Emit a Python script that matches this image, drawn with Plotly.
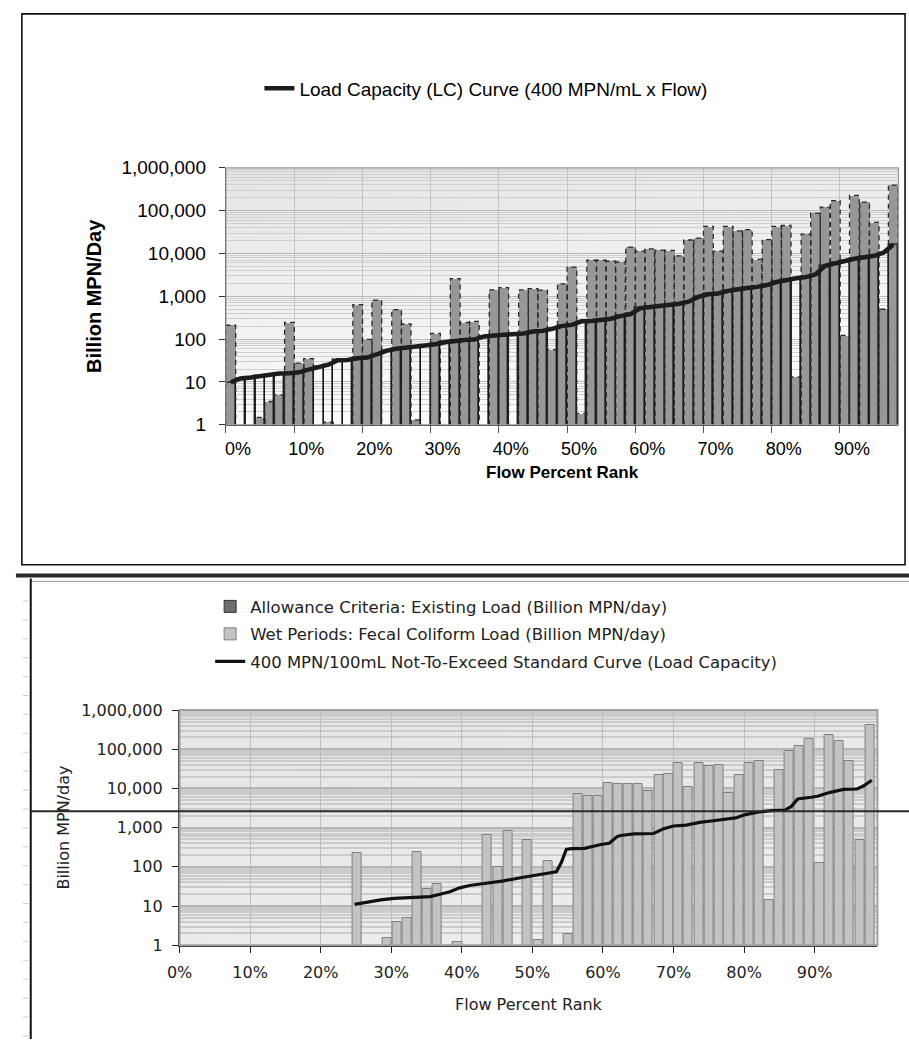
import base64
import plotly.graph_objects as go

# ---------------- Top chart data (category = flow percent rank) ----------------
top_rank = [0.0, 1.4, 2.9, 4.3, 5.7, 7.1, 8.6, 10.0, 11.4, 12.9, 14.3, 15.7, 17.1, 18.6,
            20.0, 21.4, 22.9, 24.3, 25.7, 27.1, 28.6, 30.0, 31.4, 32.9, 34.3, 35.7, 37.1, 38.6,
            40.0, 41.4, 42.9, 44.3, 45.7, 47.1, 48.6, 50.0, 51.4, 52.9, 54.3, 55.7, 57.1, 58.6,
            60.0, 61.4, 62.9, 64.3, 65.7, 67.1, 68.6, 70.0, 71.4, 72.9, 74.3, 75.7, 77.1, 78.6,
            80.0, 81.4, 82.9, 84.3, 85.7, 87.1, 88.6, 90.0, 91.4, 92.9, 94.3, 95.7, 97.1]
top_load = [211, None, None, 1.5, 3.5, 5.0, 247, 27.5, 35, None, 1.15, None, None, 640,
            99, 818, None, 490, 226, 1.3, None, 136, None, 2600, 247, 261, None, 1406,
            1590, None, 1406, 1510, 1400, 57, 1960, 4800, 1.85, 6950, 6950, 6580, 6350, 14000,
            11350, 12800, 11950, 11750, 8740, 20600, 22900, 43000, 11350, 43000, 33700, 36100, 7310, 21000,
            43000, 45000, 13.2, 28200, 87000, 121000, 172000, 122, 228000, 158000, 53000, 499, 393000]
top_lc = [9.8, 12.1, 12.7, 13.9, 14.9, 15.7, 16.0, 16.8, 19.4, 22.4, 25.3, 32.2, 32.8, 35.8,
          37.1, 44.3, 53.9, 59.7, 63, 66.5, 71.2, 76, 84.6, 92.5, 95.8, 97.6, 116, 122,
          124, 129, 136, 151, 156, 174, 204, 215, 261, 265, 279, 300, 345, 384,
          527, 555, 585, 627, 673, 750, 980, 1120, 1160, 1340, 1470, 1560, 1660, 1830,
          2150, 2440, 2630, 2800, 3230, 5160, 5940, 6740, 7500, 8200, 8800, 10500, 16200]

# ---------------- Bottom chart data ----------------
bot_rank = [25.1, 29.4, 30.8, 32.2, 33.7, 35.1, 36.5, 39.4, 43.6, 45.1, 46.5, 49.3, 50.8, 52.2,
            55.0, 56.5, 57.9, 59.3, 60.7, 62.2, 63.6, 65.0, 66.4, 67.9, 69.3, 70.7, 72.1, 73.6,
            75.0, 76.4, 77.8, 79.3, 80.7, 82.1, 83.5, 85.0, 86.4, 87.8, 89.2, 90.7, 92.1, 93.5,
            94.9, 96.4, 97.8]
bot_wet = [220, 1.55, 3.8, 4.9, 242, 27.7, 36, 1.2, 660, 100, 810, 492, 1.33, 142,
           1.9, 7220, 6400, 6400, 14100, 13000, 13000, 13000, 8410, 22000, 23700, 43800, 11000, 43800,
           37600, 40600, 7790, 22000, 43800, 51100, 13.9, 28700, 87400, 123500, 178000, 128, 228000, 161000,
           51100, 492, 422000]
bot_allow = [None]  # existing-load series: no visible bars in this panel
bot_lc_rank = [24.8, 26.7, 28.5, 30.4, 32.7, 35.5, 36.9, 38.3, 39.7, 41.1, 42.9, 45.7, 48.5, 51.3,
               53.4, 54.1, 54.8, 55.5, 57.4, 59.7, 60.9, 62.0, 62.5, 64.4, 67.2, 68.6, 70.0, 71.8,
               73.7, 75.6, 77.4, 78.8, 80.2, 82.1, 83.9, 85.8, 86.7, 87.6, 89.5, 90.4, 92.2, 94.1,
               96.0, 96.9, 98.1]
bot_lc = [11, 12.8, 14.4, 15.6, 16.5, 17.4, 20, 23, 29, 33.4, 37, 43, 53.5, 64,
          75, 128, 276, 290, 295, 370, 400, 590, 630, 693, 707, 940, 1100, 1160,
          1360, 1500, 1630, 1770, 2150, 2500, 2700, 2810, 3480, 5400, 5940, 6300, 7940, 9440,
          9640, 11500, 16200]

y_tickvals = [1, 10, 100, 1000, 10000, 100000, 1000000]
y_ticktext = ["1", "10", "100", "1,000", "10,000", "100,000", "1,000,000"]
x_tickvals = [0, 10, 20, 30, 40, 50, 60, 70, 80, 90]
x_ticktext = ["0%", "10%", "20%", "30%", "40%", "50%", "60%", "70%", "80%", "90%"]

W_PX, H_PX = 909, 1050
def px(x):
    return x / W_PX
def py(y):
    return 1 - y / H_PX

TOP_X = [px(216), px(898.3)]
TOP_Y = [py(423.3), py(161)]
BOT_X = [px(169), px(877)]
BOT_Y = [py(954.3), py(714.3)]

BAR_W = 10 / 7
minor_vals = [k * 10 ** e for e in range(6) for k in range(2, 10)]

ARIAL = "Liberation Sans, Arial, Helvetica, sans-serif"
TAHOMA = "DejaVu Sans, Verdana, sans-serif"

fig = go.Figure()

# ---- top chart ----
fig.add_trace(go.Bar(x=top_rank, y=top_load, width=BAR_W + 0.01, offset=0,
                     marker=dict(color="#979797", line=dict(width=0)),
                     showlegend=False, hoverinfo="skip", xaxis="x", yaxis="y"))
fig.add_trace(go.Bar(x=top_rank, y=top_lc, width=BAR_W, offset=0,
                     marker=dict(color="rgba(0,0,0,0)", line=dict(color="#111111", width=1.3)),
                     showlegend=False, hoverinfo="skip", xaxis="x", yaxis="y"))
ox, oy = [], []
for r, v in zip(top_rank, top_load):
    if v is None:
        continue
    ox += [r, r, r + BAR_W, r + BAR_W, None]
    oy += [1, v, v, 1, None]
fig.add_trace(go.Scatter(x=ox, y=oy, mode="lines",
                         line=dict(color="#2a2a2a", width=1.3, dash="5px,4px"),
                         showlegend=False, hoverinfo="skip", xaxis="x", yaxis="y"))
fig.add_trace(go.Scatter(x=[r + BAR_W / 2 for r in top_rank], y=top_lc, mode="lines",
                         line=dict(color="#1c1c1c", width=4.5),
                         name="Load Capacity (LC) Curve (400 MPN/mL x Flow)",
                         legend="legend", xaxis="x", yaxis="y"))

# ---- bottom chart ----
fig.add_trace(go.Bar(x=bot_allow, y=bot_allow, name="Allowance Criteria: Existing Load (Billion MPN/day)",
                     marker=dict(color="#6e6e6e", line=dict(color="#333333", width=1)),
                     legend="legend2", legendgroup="a", xaxis="x2", yaxis="y2"))
fig.add_trace(go.Bar(x=bot_rank, y=bot_wet, width=1.3,
                     name="Wet Periods: Fecal Coliform Load (Billion MPN/day)",
                     marker=dict(color="#c3c3c3", line=dict(color="#808080", width=1)),
                     legend="legend2", legendgroup="b", xaxis="x2", yaxis="y2"))
fig.add_trace(go.Scatter(x=bot_lc_rank, y=bot_lc, mode="lines",
                         line=dict(color="#111111", width=3.2),
                         name="400 MPN/100mL Not-To-Exceed Standard Curve (Load Capacity)",
                         legend="legend2", legendgroup="c", xaxis="x2", yaxis="y2"))

def grad_svg(c1, c2):
    svg = ('<svg xmlns="http://www.w3.org/2000/svg" width="100" height="100" preserveAspectRatio="none">'
           '<defs><linearGradient id="g" x1="0" y1="0" x2="0.3" y2="1">'
           f'<stop offset="0" stop-color="{c1}"/><stop offset="1" stop-color="{c2}"/>'
           '</linearGradient></defs><rect width="100" height="100" fill="url(#g)"/></svg>')
    return "data:image/svg+xml;base64," + base64.b64encode(svg.encode()).decode()

images = [
    dict(source=grad_svg("#e4e4e4", "#fbfbfb"), xref="paper", yref="paper",
         x=TOP_X[0], y=TOP_Y[1], sizex=TOP_X[1] - TOP_X[0], sizey=TOP_Y[1] - TOP_Y[0],
         xanchor="left", yanchor="top", sizing="stretch", layer="below"),
    dict(source=grad_svg("#e6e6e6", "#ececec"), xref="paper", yref="paper",
         x=BOT_X[0], y=BOT_Y[1], sizex=BOT_X[1] - BOT_X[0], sizey=BOT_Y[1] - BOT_Y[0],
         xanchor="left", yanchor="top", sizing="stretch", layer="below"),
]

shapes = [
    # top chart frame
    dict(type="rect", xref="paper", yref="paper", x0=px(9), x1=px(905), y0=py(566), y1=py(4),
         line=dict(color="#111111", width=1.6), fillcolor="rgba(0,0,0,0)"),
    # plot area borders
    dict(type="rect", xref="paper", yref="paper", x0=TOP_X[0], x1=TOP_X[1], y0=TOP_Y[0], y1=TOP_Y[1],
         line=dict(color="#9a9a9a", width=1.2), layer="above"),
    dict(type="rect", xref="paper", yref="paper", x0=BOT_X[0], x1=BOT_X[1], y0=BOT_Y[0], y1=BOT_Y[1],
         line=dict(color="#a0a0a0", width=2), layer="above"),
    # separator band between the two panels
    dict(type="line", xref="paper", yref="paper", x0=px(3), x1=1, y0=py(577), y1=py(577),
         line=dict(color="#2a2a2a", width=4)),
    dict(type="line", xref="paper", yref="paper", x0=px(18), x1=1, y0=py(583), y1=py(583),
         line=dict(color="#9a9a9a", width=1)),
    # bottom panel left border
    dict(type="line", xref="paper", yref="paper", x0=px(18), x1=px(18), y0=0, y1=py(580),
         line=dict(color="#111111", width=2)),
    # horizontal page line crossing the lower chart
    dict(type="line", xref="paper", yref="paper", x0=px(18), x1=1, y0=py(817.7), y1=py(817.7),
         line=dict(color="#2a2a2a", width=2), layer="above"),
]
for k in range(24):
    yy = 603 + 19.3 * k
    shapes.append(dict(type="line", xref="paper", yref="paper", x0=px(10), x1=px(17),
                       y0=py(yy), y1=py(yy), line=dict(color="#cfcfcf", width=1)))

annotations = [
    dict(text="<b>Billion MPN/Day</b>", xref="paper", yref="paper", x=px(82), y=py(292),
         xanchor="center", yanchor="middle",
         textangle=-90, showarrow=False, font=dict(family=ARIAL, size=20, color="#000")),
    dict(text="<b>Flow Percent Rank</b>", xref="paper", yref="paper", x=px(557), y=py(472),
         xanchor="center", yanchor="middle",
         showarrow=False, font=dict(family=ARIAL, size=17, color="#000")),
    dict(text="Billion MPN/day", xref="paper", yref="paper", x=px(51), y=py(834),
         xanchor="center", yanchor="middle",
         textangle=-90, showarrow=False, font=dict(family=TAHOMA, size=16, color="#222")),
    dict(text="Flow Percent Rank", xref="paper", yref="paper", x=px(523), y=py(1015),
         xanchor="center", yanchor="middle",
         showarrow=False, font=dict(family=TAHOMA, size=16, color="#222")),
]

fig.update_layout(
    width=W_PX, height=H_PX, margin=dict(l=0, r=0, t=0, b=0),
    paper_bgcolor="white", plot_bgcolor="rgba(0,0,0,0)",
    barmode="overlay", bargap=0,
    font=dict(family=ARIAL, size=19, color="#000"),
    images=images, shapes=shapes, annotations=annotations,
    xaxis=dict(domain=TOP_X, anchor="y", range=[0, 69 * BAR_W],
               tickvals=x_tickvals, ticktext=x_ticktext, ticks="outside", ticklen=7,
               tickcolor="#555", showline=True, linecolor="#222", linewidth=1.3,
               showgrid=True, gridcolor="#c2c2c2", zeroline=False, ticklabelshift=12,
               tickfont=dict(family=ARIAL, size=18, color="#000")),
    yaxis=dict(domain=TOP_Y, anchor="x", type="log", range=[0, 6],
               tickvals=y_tickvals, ticktext=y_ticktext, ticks="outside", ticklen=6,
               tickcolor="#333", showline=True, linecolor="#222", linewidth=1.3,
               showgrid=True, gridcolor="#b8b8b8", zeroline=False, ticklabelstandoff=9,
               minor=dict(tickvals=minor_vals, showgrid=True, gridcolor="#cfcfcf", ticks=""),
               tickfont=dict(family=ARIAL, size=19, color="#000")),
    xaxis2=dict(domain=BOT_X, anchor="y2", range=[0, 98.9],
                tickvals=x_tickvals, ticktext=x_ticktext, ticks="outside", ticklen=6,
                tickcolor="#222", showline=True, linecolor="#222", linewidth=1.5,
                showgrid=True, gridcolor="#bdbdbd", zeroline=False, ticklabelstandoff=6,
                tickfont=dict(family=TAHOMA, size=16, color="#222")),
    yaxis2=dict(domain=BOT_Y, anchor="x2", type="log", range=[0, 6],
                tickvals=y_tickvals, ticktext=y_ticktext, ticks="outside", ticklen=6,
                tickcolor="#222", showline=True, linecolor="#222", linewidth=1.5,
                showgrid=True, gridcolor="#b5b5b5", gridwidth=2, zeroline=False, ticklabelstandoff=6,
                minor=dict(tickvals=minor_vals, showgrid=True, gridcolor="#cbcbcb", ticks=""),
                tickfont=dict(family=TAHOMA, size=16, color="#222")),
    legend=dict(x=px(250), y=py(80), xanchor="left", yanchor="middle",
                bgcolor="rgba(0,0,0,0)", font=dict(family=ARIAL, size=19, color="#000")),
    legend2=dict(x=px(200), y=py(591), xanchor="left", yanchor="top", traceorder="grouped",
                 tracegroupgap=3, bgcolor="rgba(0,0,0,0)",
                 font=dict(family=TAHOMA, size=16.5, color="#222")),
)

fig.write_html("out.html", config={"displayModeBar": False},
               post_script="document.body.style.margin='0';document.body.style.overflow='hidden';")
